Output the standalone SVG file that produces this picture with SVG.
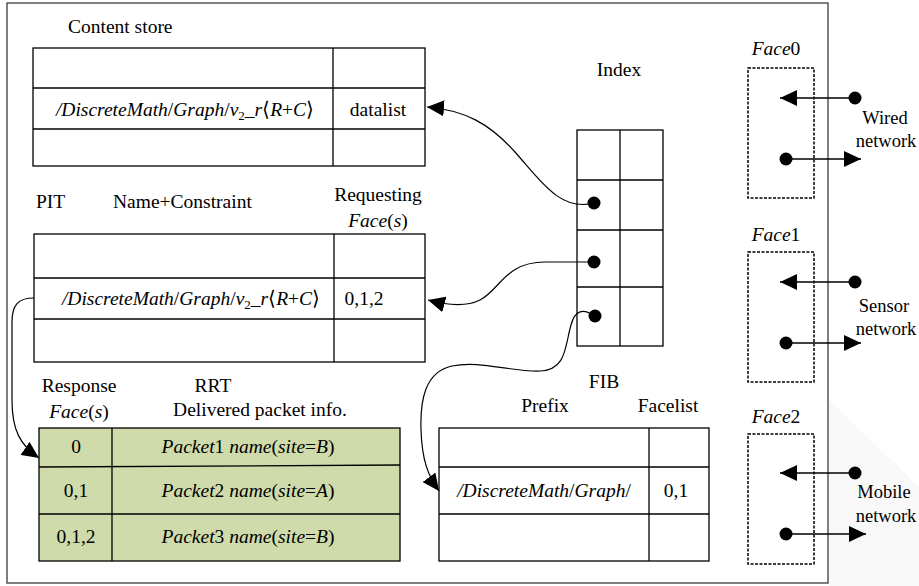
<svg xmlns="http://www.w3.org/2000/svg" width="919" height="586" viewBox="0 0 919 586">
<defs>
<style>
text{font-family:"Liberation Serif","Times New Roman",serif;font-size:19.5px;fill:#000}
.m{text-anchor:middle}
.i{font-style:italic}
.side{font-size:18.5px}
.tbl{fill:#fff;stroke:#000;stroke-width:1.3}
.ln{stroke:#000;stroke-width:1.3;fill:none}
.green{fill:#cfdbaa;stroke:#000;stroke-width:1.3}
.face{fill:none;stroke:#000;stroke-width:1.5;stroke-dasharray:3,1.5}
.con{fill:none;stroke:#000;stroke-width:1.2}
.dot{fill:#000}
</style>
<marker id="ah" markerUnits="userSpaceOnUse" markerWidth="18" markerHeight="16" refX="17" refY="8" orient="auto">
<path d="M0,0 L17,8 L0,16 z" fill="#000"/>
</marker>
</defs>
<rect x="0" y="0" width="919" height="586" fill="#fff"/>
<polygon points="829,400 919,487 919,586 829,586" fill="#f8f8f8"/>
<rect x="7" y="3" width="821" height="580" fill="none" stroke="#555" stroke-width="1.5"/>

<g id="content-store">
<text x="68" y="33">Content store</text>
<rect class="tbl" x="33" y="48" width="392" height="118"/>
<line class="ln" x1="333" y1="48" x2="333" y2="166"/>
<line class="ln" x1="33" y1="88" x2="425" y2="88"/>
<line class="ln" x1="33" y1="129" x2="425" y2="129"/>
<text class="m" x="185" y="116"><tspan class="i">/DiscreteMath</tspan>/<tspan class="i">Graph</tspan>/<tspan class="i">v</tspan><tspan font-size="13" dy="4">2</tspan><tspan class="i" dy="-4">_r</tspan>⟨<tspan class="i">R</tspan>+<tspan class="i">C</tspan>⟩</text>
<text class="m" x="378" y="116">datalist</text>
</g>

<g id="index">
<text class="m" x="619" y="76">Index</text>
<rect class="tbl" x="577" y="130" width="86" height="216"/>
<line class="ln" x1="620" y1="130" x2="620" y2="346"/>
<line class="ln" x1="577" y1="180" x2="663" y2="180"/>
<line class="ln" x1="577" y1="230" x2="663" y2="230"/>
<line class="ln" x1="577" y1="287" x2="663" y2="287"/>
<circle class="dot" cx="594" cy="203" r="6.5"/>
<circle class="dot" cx="594" cy="262" r="6.5"/>
<circle class="dot" cx="595" cy="316" r="6.5"/>
</g>

<g id="pit">
<text x="36" y="208">PIT</text>
<text x="113" y="208">Name+Constraint</text>
<text class="m" x="378" y="201">Requesting</text>
<text class="m" x="378" y="227"><tspan class="i">Face</tspan>(<tspan class="i">s</tspan>)</text>
<rect class="tbl" x="34" y="234" width="391" height="128"/>
<line class="ln" x1="334" y1="234" x2="334" y2="362"/>
<line class="ln" x1="34" y1="278" x2="425" y2="278"/>
<line class="ln" x1="34" y1="319" x2="425" y2="319"/>
<text class="m" x="191" y="305"><tspan class="i">/DiscreteMath</tspan>/<tspan class="i">Graph</tspan>/<tspan class="i">v</tspan><tspan font-size="13" dy="4">2</tspan><tspan class="i" dy="-4">_r</tspan>⟨<tspan class="i">R</tspan>+<tspan class="i">C</tspan>⟩</text>
<text class="m" x="364" y="305">0,1,2</text>
</g>

<g id="rrt">
<text class="m" x="79" y="392">Response</text>
<text class="m" x="79" y="418"><tspan class="i">Face</tspan>(<tspan class="i">s</tspan>)</text>
<text class="m" x="213" y="392">RRT</text>
<text class="m" x="260" y="416">Delivered packet info.</text>
<rect class="green" x="39" y="428" width="361" height="133"/>
<line class="ln" x1="112" y1="428" x2="112" y2="561"/>
<line class="ln" x1="39" y1="467" x2="400" y2="465"/>
<line class="ln" x1="39" y1="514" x2="400" y2="514"/>
<text class="m" x="76" y="453">0</text>
<text class="m" x="76" y="497">0,1</text>
<text class="m" x="76" y="543">0,1,2</text>
<text class="m" x="248" y="453"><tspan class="i">Packet</tspan>1 <tspan class="i">name</tspan>(<tspan class="i">site</tspan>=<tspan class="i">B</tspan>)</text>
<text class="m" x="248" y="497"><tspan class="i">Packet</tspan>2 <tspan class="i">name</tspan>(<tspan class="i">site</tspan>=<tspan class="i">A</tspan>)</text>
<text class="m" x="248" y="543"><tspan class="i">Packet</tspan>3 <tspan class="i">name</tspan>(<tspan class="i">site</tspan>=<tspan class="i">B</tspan>)</text>
</g>

<g id="fib">
<text class="m" x="604" y="388">FIB</text>
<text class="m" x="545" y="412">Prefix</text>
<text class="m" x="668" y="412">Facelist</text>
<rect class="tbl" x="439" y="428" width="270" height="133"/>
<line class="ln" x1="649" y1="428" x2="649" y2="561"/>
<line class="ln" x1="439" y1="467" x2="709" y2="467"/>
<line class="ln" x1="439" y1="514" x2="709" y2="514"/>
<text class="m" x="544" y="497"><tspan class="i">/DiscreteMath</tspan>/<tspan class="i">Graph</tspan>/</text>
<text class="m" x="676" y="497">0,1</text>
</g>

<g id="face0">
<text class="m" x="776" y="55"><tspan class="i">Face</tspan>0</text>
<rect class="face" x="748" y="68" width="66" height="130"/>
<line class="ln" x1="855" y1="98" x2="780" y2="98" marker-end="url(#ah)"/>
<circle class="dot" cx="855" cy="98" r="6.5"/>
<line class="ln" x1="786" y1="159" x2="861" y2="159" marker-end="url(#ah)"/>
<circle class="dot" cx="786" cy="159" r="6.5"/>
<text class="m side" x="885" y="124">Wired</text>
<text class="m side" x="886" y="147">network</text>
</g>

<g id="face1">
<text class="m" x="776" y="241"><tspan class="i">Face</tspan>1</text>
<rect class="face" x="748" y="252" width="66" height="130"/>
<line class="ln" x1="855" y1="282" x2="780" y2="282" marker-end="url(#ah)"/>
<circle class="dot" cx="855" cy="282" r="6.5"/>
<line class="ln" x1="786" y1="343" x2="861" y2="343" marker-end="url(#ah)"/>
<circle class="dot" cx="786" cy="343" r="6.5"/>
<text class="m side" x="884" y="312">Sensor</text>
<text class="m side" x="886" y="335">network</text>
</g>

<g id="face2">
<text class="m" x="776" y="423"><tspan class="i">Face</tspan>2</text>
<rect class="face" x="748" y="434" width="66" height="130"/>
<line class="ln" x1="855" y1="473" x2="780" y2="473" marker-end="url(#ah)"/>
<circle class="dot" cx="855" cy="473" r="6.5"/>
<line class="ln" x1="786" y1="534" x2="866" y2="534" marker-end="url(#ah)"/>
<circle class="dot" cx="786" cy="534" r="6.5"/>
<text class="m side" x="884" y="498">Mobile</text>
<text class="m side" x="886" y="522">network</text>
</g>

<g id="connectors">
<path class="con" d="M594,203 C560,212 540,180 515,152 C490,124 465,110 427,107" marker-end="url(#ah)"/>
<path class="con" d="M594,262 L545,262 C505,262 500,290 480,300 C468,306 450,306 428,300" marker-end="url(#ah)"/>
<path class="con" d="M595,316 C583,308 575,310 571,325 C565,345 567,370 540,371 C510,372 480,360 452,366 C425,372 420,400 421,430 C422,460 428,476 439,491" marker-end="url(#ah)"/>
<path class="con" d="M34,298 C18,298 12,305 12,322 L12,400 C12,430 20,445 39,458" marker-end="url(#ah)"/>
</g>
</svg>
